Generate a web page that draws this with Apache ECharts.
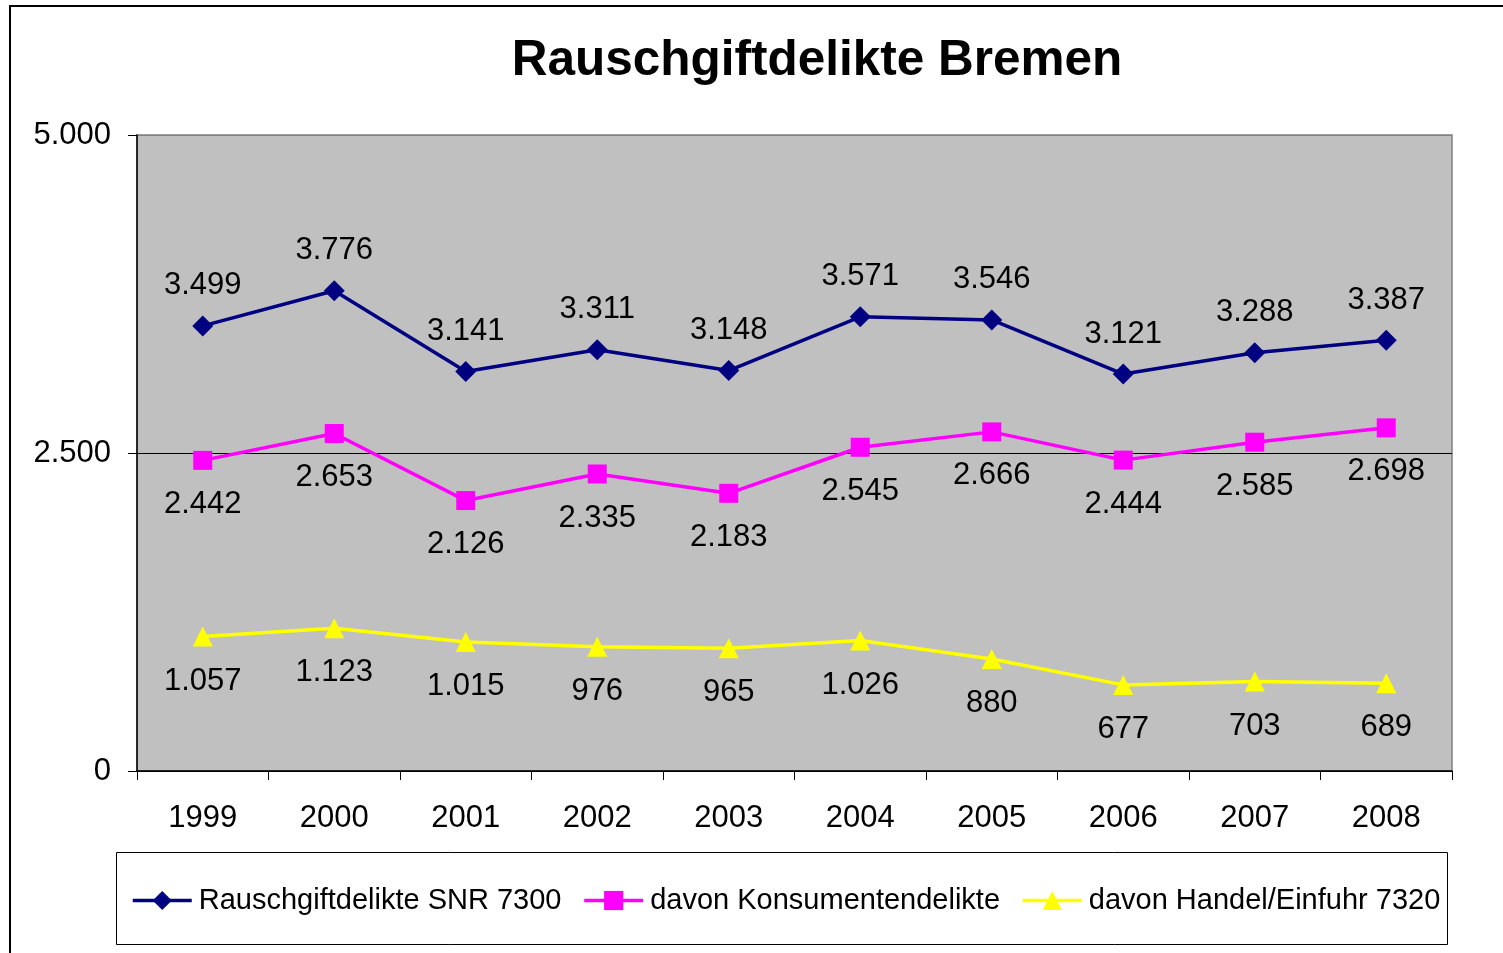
<!DOCTYPE html>
<html><head><meta charset="utf-8">
<script src="https://cdn.jsdelivr.net/npm/echarts@6/dist/echarts.min.js"></script>
<style>html,body{margin:0;padding:0;background:#fff}#c{width:1503px;height:953px}</style>
</head><body><div id="c"></div>
<script>
const years = ['1999','2000','2001','2002','2003','2004','2005','2006','2007','2008'];
const snr7300 = [3499, 3776, 3141, 3311, 3148, 3571, 3546, 3121, 3288, 3387];
const konsum = [2442, 2653, 2126, 2335, 2183, 2545, 2666, 2444, 2585, 2698];
const handel = [1057, 1123, 1015, 976, 965, 1026, 880, 677, 703, 689];
const seriesNames = ['Rauschgiftdelikte SNR 7300', 'davon Konsumentendelikte', 'davon Handel/Einfuhr 7320'];
const yTicks = [0, 2500, 5000];

const FONT = '"Liberation Sans", Arial, sans-serif';
function de(v){ v = Math.round(v); return v >= 1000 ? Math.floor(v/1000) + '.' + String(v % 1000).padStart(3,'0') : String(v); }

const chart = echarts.init(document.getElementById('c'), null, {renderer:'canvas'});
const lbl = (pos, d) => ({show:true, position:pos, distance:d, color:'#000', fontFamily:FONT, fontSize:31, formatter:p=>de(p.value)});
chart.setOption({
  animation:false,
  textStyle:{fontFamily:FONT},
  title:{text:'Rauschgiftdelikte Bremen', left:812, textAlign:'center', top:31,
    textStyle:{fontFamily:FONT, fontSize:49.5, fontWeight:'bold', color:'#000'}},
  graphic:[
    {type:'rect', shape:{x:10, y:6, width:1510, height:960}, style:{fill:null, stroke:'#000', lineWidth:2}, z:-1},
    {type:'rect', shape:{x:116.5, y:852.5, width:1331, height:92}, style:{fill:'#fff', stroke:'#000', lineWidth:1}, z:-1}
  ],
  grid:{left:137, right:51, top:135, bottom:182, show:true, backgroundColor:'#C0C0C0', borderColor:'#808080', borderWidth:1.5},
  legend:{left:131, top:886, padding:0, itemWidth:59, itemHeight:24, itemGap:21,
    lineStyle:{width:3.5},
    textStyle:{fontFamily:FONT, fontSize:29, color:'#000', padding:[0,0,0,2]},
    data:seriesNames},
  xAxis:{type:'category', data:years, boundaryGap:true,
    axisLine:{lineStyle:{color:'#000', width:1.5}},
    axisTick:{show:true, length:9, lineStyle:{color:'#000'}},
    axisLabel:{color:'#000', fontFamily:FONT, fontSize:31, margin:32}},
  yAxis:{type:'value', min:yTicks[0], max:yTicks[yTicks.length-1], interval:yTicks[1]-yTicks[0],
    axisLine:{show:true, lineStyle:{color:'#000', width:1.5}},
    axisTick:{show:true, length:9, lineStyle:{color:'#000'}},
    axisLabel:{color:'#000', fontFamily:FONT, fontSize:31, margin:26, formatter:v=>de(v)},
    splitLine:{show:true, lineStyle:{color:['#000','#000','#808080'], width:1.2}}},
  series:[
    {name:seriesNames[0], type:'line', data:snr7300, symbol:'diamond', symbolSize:21,
      lineStyle:{color:'#000080', width:3.5}, itemStyle:{color:'#000080'}, label:lbl('top', 14)},
    {name:seriesNames[1], type:'line', data:konsum, symbol:'rect', symbolSize:19,
      lineStyle:{color:'#FF00FF', width:3.5}, itemStyle:{color:'#FF00FF'}, label:lbl('bottom', 19)},
    {name:seriesNames[2], type:'line', data:handel, symbol:'triangle', symbolSize:20,
      lineStyle:{color:'#FFFF00', width:3.5}, itemStyle:{color:'#FFFF00'}, label:lbl('bottom', 19)}
  ]
});
</script></body></html>
